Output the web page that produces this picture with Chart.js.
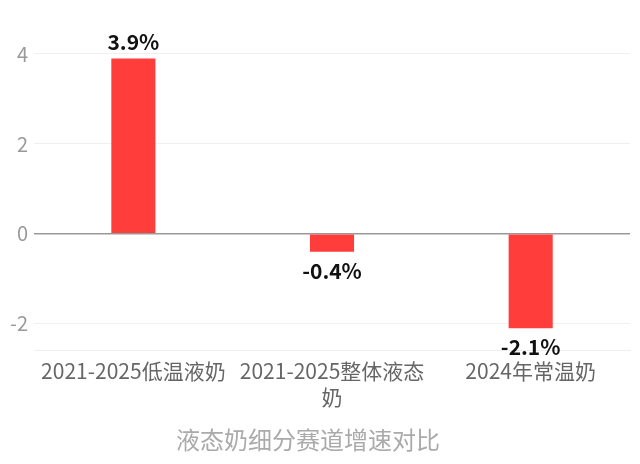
<!DOCTYPE html>
<html><head><meta charset="utf-8">
<script src="https://cdn.jsdelivr.net/npm/chart.js@4/dist/chart.umd.min.js"></script>
<style>html,body{margin:0;padding:0;background:#fff}#wrap{width:640px;height:464px}</style>
</head><body><div id="wrap"><canvas id="c"></canvas></div>
<script>
const categories = ["2021-2025低温液奶", ["2021-2025整体液态", "奶"], "2024年常温奶"];
const growth = [3.9, -0.4, -2.1];
const yTicks = [-2, 0, 2, 4];
const axisTitle = "液态奶细分赛道增速对比";

const FONT = '"Noto Sans CJK SC", "Noto Sans", sans-serif';

const valueLabels = {
  id: 'valueLabels',
  afterDatasetsDraw(chart) {
    const ctx = chart.ctx;
    const meta = chart.getDatasetMeta(0);
    ctx.save();
    ctx.font = 'bold 21px ' + FONT;
    ctx.fillStyle = '#111';
    ctx.textAlign = 'center';
    ctx.textBaseline = 'alphabetic';
    meta.data.forEach((bar, i) => {
      const v = growth[i];
      const txt = v.toFixed(1) + '%';
      if (v >= 0) ctx.fillText(txt, bar.x, bar.y - 8);
      else ctx.fillText(txt, bar.x, bar.y + 27);
    });
    ctx.restore();
  },
  afterDraw(chart) {
    const ctx = chart.ctx;
    const xs = chart.scales.x;
    ctx.save();
    ctx.font = '24px ' + FONT;
    ctx.fillStyle = '#aaa';
    ctx.textAlign = 'center';
    ctx.textBaseline = 'middle';
    const cx = (xs.left + xs.right) / 2 - 24;
    ctx.fillText(axisTitle, cx, xs.bottom - 16);
    ctx.restore();
  }
};

new Chart(document.getElementById('c'), {
  type: 'bar',
  data: {
    labels: categories,
    datasets: [{ data: growth, backgroundColor: '#ff3e3b', borderWidth: 0, barPercentage: 0.222, categoryPercentage: 1 }]
  },
  options: {
    responsive: true, maintainAspectRatio: false, animation: false,
    layout: { padding: { left: 4, right: 10, top: 36, bottom: 8 } },
    plugins: { legend: { display: false }, tooltip: { enabled: false } },
    scales: {
      x: {
        grid: { display: false, drawTicks: false },
        border: { display: true, color: '#eeeeee', width: 1 },
        ticks: { color: '#666', font: { family: FONT, size: 21 }, padding: 8, maxRotation: 0, autoSkip: false },
        title: { display: true, text: axisTitle, color: 'rgba(0,0,0,0)', font: { family: FONT, size: 24 }, padding: { top: 10, bottom: 0 } }
      },
      y: {
        min: -2.6, max: 4.4,
        afterBuildTicks(axis) { axis.ticks = yTicks.map(v => ({ value: v })); },
        grid: {
          drawTicks: false,
          color: c => c.tick && c.tick.value === 0 ? '#999' : '#f0f0f0',
          lineWidth: c => c.tick && c.tick.value === 0 ? 1.5 : 1
        },
        border: { display: false },
        ticks: { color: '#999', font: { family: FONT, size: 20 }, padding: 6 }
      }
    }
  },
  plugins: [valueLabels]
});
</script></body></html>
